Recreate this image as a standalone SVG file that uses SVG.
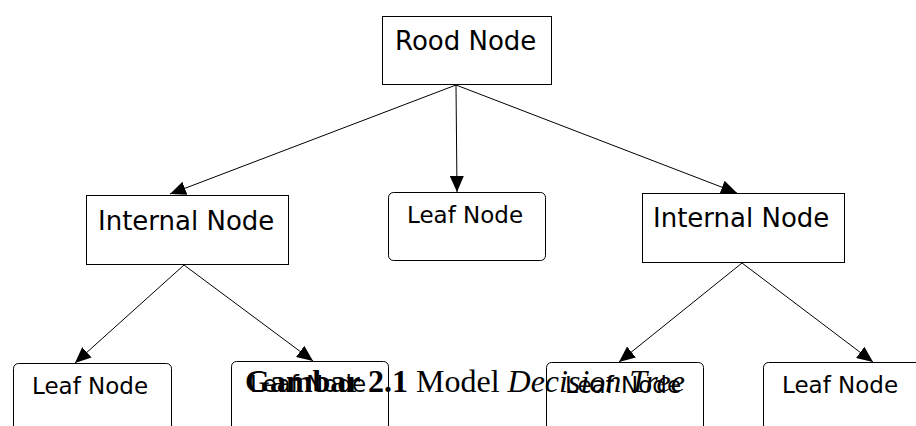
<svg xmlns="http://www.w3.org/2000/svg" width="916" height="426" viewBox="0 0 916 426">
<style>
.box{fill:#fff;stroke:#000;stroke-width:1}
.lbl{font-family:"DejaVu Sans",sans-serif;fill:#000}
.big{font-size:26px}
.small{font-size:23px}
.edge{stroke:#000;stroke-width:1;fill:none;marker-end:url(#ah)}
.cap{font-family:"Liberation Serif",serif;font-size:32px;fill:#000}
</style>
<defs>
<marker id="ah" markerUnits="userSpaceOnUse" markerWidth="16" markerHeight="14" refX="16" refY="7" orient="auto">
<path d="M0,0 L16,7 L0,14 z" fill="#000"/>
</marker>
</defs>
<rect width="916" height="426" fill="#fff"/>
<g id="connectors">
<line class="edge" x1="456" y1="85" x2="170" y2="194"/>
<line class="edge" x1="456" y1="85" x2="457" y2="192"/>
<line class="edge" x1="456" y1="85" x2="737" y2="193"/>
<line class="edge" x1="184" y1="265" x2="75" y2="363"/>
<line class="edge" x1="184" y1="265" x2="313" y2="361"/>
<line class="edge" x1="742" y1="263" x2="619" y2="362"/>
<line class="edge" x1="742" y1="263" x2="873" y2="362"/>
</g>
<g id="root">
<rect class="box" x="382.5" y="16.5" width="169" height="68"/>
<text class="lbl big" x="395" y="50">Rood Node</text>
</g>
<g id="internal-left">
<rect class="box" x="86.5" y="195.5" width="202" height="69"/>
<text class="lbl big" x="98" y="230">Internal Node</text>
</g>
<g id="leaf-middle">
<rect class="box" x="388.5" y="192.5" width="157" height="68" rx="5"/>
<text class="lbl small" x="407" y="223">Leaf Node</text>
</g>
<g id="internal-right">
<rect class="box" x="642.5" y="193.5" width="202" height="69"/>
<text class="lbl big" x="653" y="227">Internal Node</text>
</g>
<g id="leaf-1">
<rect class="box" x="13.5" y="363.5" width="158" height="80" rx="5"/>
<text class="lbl small" x="32" y="394">Leaf Node</text>
</g>
<g id="leaf-2">
<rect class="box" x="231.5" y="361.5" width="157" height="80" rx="5"/>
<text class="lbl small" x="250" y="392">Leaf Node</text>
</g>
<g id="leaf-3">
<rect class="box" x="546.5" y="362.5" width="157" height="80" rx="5"/>
<text class="lbl small" x="565" y="393">Leaf Node</text>
</g>
<g id="leaf-4">
<rect class="box" x="763.5" y="362.5" width="158" height="80" rx="5"/>
<text class="lbl small" x="782" y="393">Leaf Node</text>
</g>
<text class="cap" x="245" y="392"><tspan font-weight="bold">Gambar 2.1</tspan> Model <tspan font-style="italic">Decision Tree</tspan></text>
</svg>
